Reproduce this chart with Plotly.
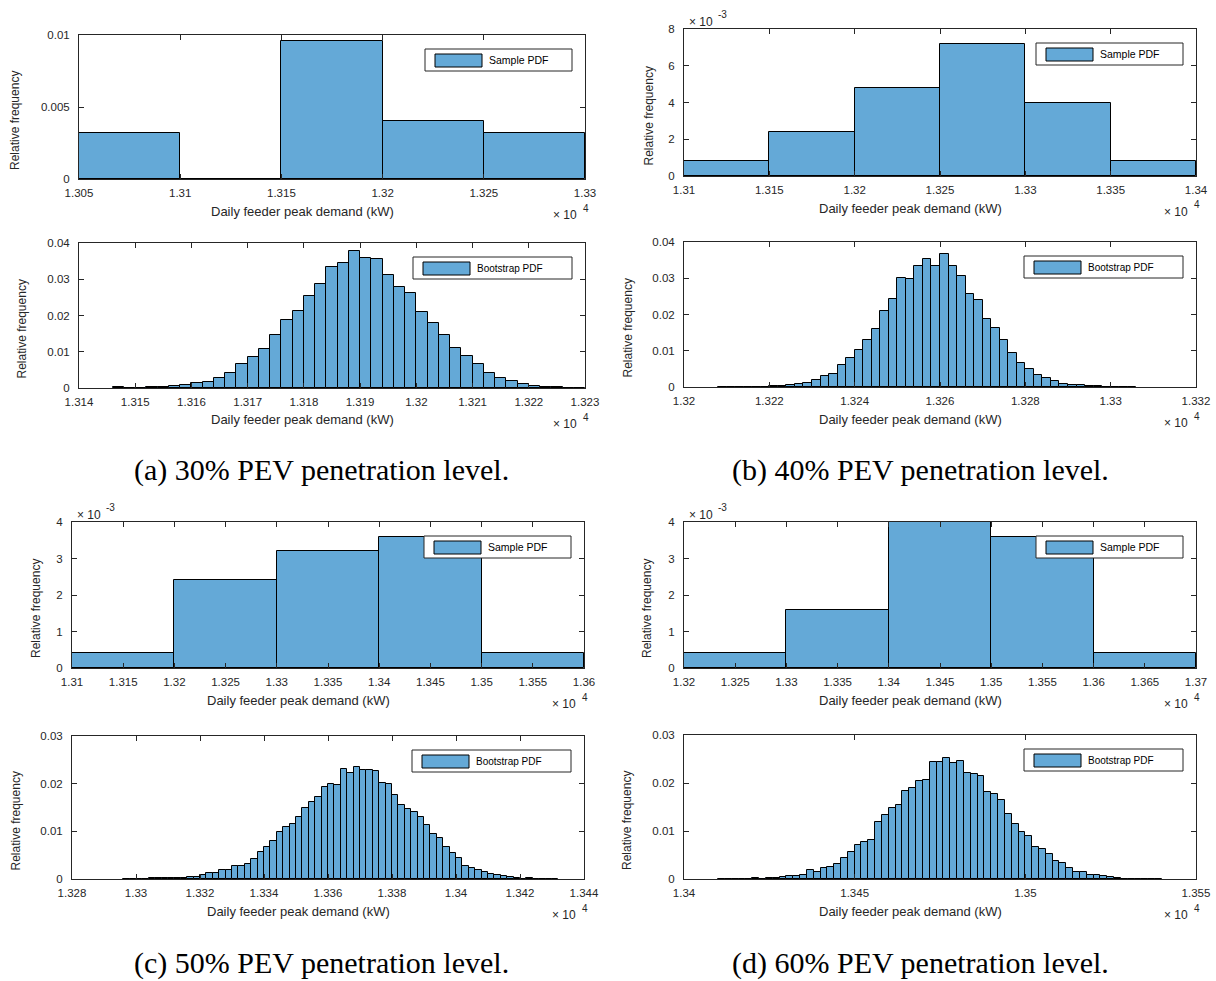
import plotly.graph_objects as go

W, H = 1216, 981

# ------------------------------------------------------------------ data
# Sample PDFs (bin edges in kW, relative frequency per bin)
a_sample_edges = [13050, 13100, 13150, 13200, 13250, 13300]
a_sample_pdf = [0.0032, 0.0, 0.0096, 0.0040, 0.0032]
b_sample_edges = [13100, 13150, 13200, 13250, 13300, 13350, 13400]
b_sample_pdf = [0.0008, 0.0024, 0.0048, 0.0072, 0.0040, 0.0008]
c_sample_edges = [13100, 13200, 13300, 13400, 13500, 13600]
c_sample_pdf = [0.0004, 0.0024, 0.0032, 0.0036, 0.0004]
d_sample_edges = [13200, 13300, 13400, 13500, 13600, 13700]
d_sample_pdf = [0.0004, 0.0016, 0.0040, 0.0036, 0.0004]

# Bootstrap PDFs (first bin edge in kW, common bin width, heights)
boot_bin_width = 2
a_boot_start = 13146
a_boot_pdf = [0.0002, 0.0000, 0.0001, 0.0002, 0.0003, 0.0005, 0.0009, 0.0014, 0.0016, 0.0028,
              0.0042, 0.0066, 0.0085, 0.0107, 0.0145, 0.0188, 0.0212, 0.0254, 0.0287, 0.0334,
              0.0344, 0.0379, 0.0360, 0.0356, 0.0312, 0.0279, 0.0263, 0.0210, 0.0180, 0.0146,
              0.0110, 0.0087, 0.0066, 0.0041, 0.0028, 0.0019, 0.0010, 0.0006, 0.0003, 0.0003,
              0.0001, 0.0001]
b_boot_start = 13208
b_boot_pdf = [0.0001, 0.0001, 0.0001, 0.0001, 0.0001, 0.0001, 0.0002, 0.0003, 0.0005, 0.0008,
              0.0010, 0.0018, 0.0029, 0.0035, 0.0061, 0.0079, 0.0102, 0.0131, 0.0160, 0.0209,
              0.0242, 0.0300, 0.0297, 0.0334, 0.0352, 0.0335, 0.0367, 0.0333, 0.0306, 0.0257,
              0.0240, 0.0188, 0.0163, 0.0130, 0.0093, 0.0066, 0.0051, 0.0034, 0.0025, 0.0017,
              0.0008, 0.0006, 0.0005, 0.0003, 0.0002, 0.0001, 0.0001, 0.0001, 0.0001]
c_boot_start = 13296
c_boot_pdf = [0.0001, 0.0001, 0.0001, 0.0001, 0.0002, 0.0002, 0.0002, 0.0003, 0.0003, 0.0003,
              0.0005, 0.0004, 0.0008, 0.0012, 0.0012, 0.0018, 0.0018, 0.0027, 0.0027, 0.0031,
              0.0041, 0.0056, 0.0068, 0.0079, 0.0098, 0.0110, 0.0115, 0.0130, 0.0150, 0.0161,
              0.0172, 0.0192, 0.0200, 0.0197, 0.0231, 0.0222, 0.0234, 0.0228, 0.0229, 0.0226,
              0.0201, 0.0199, 0.0177, 0.0155, 0.0147, 0.0140, 0.0130, 0.0113, 0.0094, 0.0085,
              0.0068, 0.0055, 0.0045, 0.0028, 0.0023, 0.0019, 0.0014, 0.0011, 0.0009, 0.0006,
              0.0004, 0.0002, 0.0001, 0.0002, 0.0001, 0.0001, 0.0001, 0.0001]
d_boot_start = 13410
d_boot_pdf = [0.0001, 0.0001, 0.0001, 0.0001, 0.0001, 0.0002, 0.0001, 0.0003, 0.0002, 0.0004,
              0.0006, 0.0006, 0.0009, 0.0018, 0.0014, 0.0023, 0.0025, 0.0032, 0.0044, 0.0057,
              0.0071, 0.0077, 0.0082, 0.0118, 0.0133, 0.0147, 0.0154, 0.0184, 0.0189, 0.0205,
              0.0206, 0.0244, 0.0244, 0.0253, 0.0241, 0.0246, 0.0221, 0.0219, 0.0215, 0.0181,
              0.0177, 0.0164, 0.0136, 0.0114, 0.0098, 0.0090, 0.0067, 0.0063, 0.0053, 0.0038,
              0.0034, 0.0022, 0.0014, 0.0014, 0.0009, 0.0008, 0.0006, 0.0005, 0.0002, 0.0001,
              0.0001, 0.0001, 0.0001, 0.0001, 0.0001]

# Tick values
a_sample_xticks = [13050, 13100, 13150, 13200, 13250, 13300]
a_boot_xticks = [13140, 13150, 13160, 13170, 13180, 13190, 13200, 13210, 13220, 13230]
b_sample_xticks = [13100, 13150, 13200, 13250, 13300, 13350, 13400]
b_boot_xticks = [13200, 13220, 13240, 13260, 13280, 13300, 13320]
c_sample_xticks = [13100, 13150, 13200, 13250, 13300, 13350, 13400, 13450, 13500, 13550, 13600]
c_boot_xticks = [13280, 13300, 13320, 13340, 13360, 13380, 13400, 13420, 13440]
d_sample_xticks = [13200, 13250, 13300, 13350, 13400, 13450, 13500, 13550, 13600, 13650, 13700]
d_boot_xticks = [13400, 13450, 13500, 13550]
a_sample_yticks = [0, 0.005, 0.01]
b_sample_yticks = [0, 0.002, 0.004, 0.006, 0.008]
cd_sample_yticks = [0, 0.001, 0.002, 0.003, 0.004]
ab_boot_yticks = [0, 0.01, 0.02, 0.03, 0.04]
cd_boot_yticks = [0, 0.01, 0.02, 0.03]

x_label = "Daily feeder peak demand (kW)"
y_label = "Relative frequency"
captions = ["(a) 30% PEV penetration level.", "(b) 40% PEV penetration level.",
            "(c) 50% PEV penetration level.", "(d) 60% PEV penetration level."]


def sample_bins(edges, pdf):
    centers = [(edges[i] + edges[i + 1]) / 2 for i in range(len(pdf))]
    widths = [edges[i + 1] - edges[i] for i in range(len(pdf))]
    return centers, widths, pdf


def boot_bins(start, width, pdf):
    centers = [start + width * (i + 0.5) for i in range(len(pdf))]
    return centers, [width] * len(pdf), pdf


# ------------------------------------------------------------------ style / layout
FILL = "#64A9D7"
AXC = "#262626"
SANS = "Liberation Sans, Arial, Helvetica, sans-serif"

panels = [
    dict(bins=sample_bins(a_sample_edges, a_sample_pdf), box=(79, 585, 35, 179),
         xr=(13050, 13300), xt=a_sample_xticks, yr=(0, 0.01), yt=a_sample_yticks, exp=False,
         leg="Sample PDF", ylx=15),
    dict(bins=boot_bins(a_boot_start, boot_bin_width, a_boot_pdf), box=(79, 585, 243, 388),
         xr=(13140, 13230), xt=a_boot_xticks, yr=(0, 0.04), yt=ab_boot_yticks, exp=False,
         leg="Bootstrap PDF", ylx=22),
    dict(bins=sample_bins(b_sample_edges, b_sample_pdf), box=(684, 1196, 29, 176),
         xr=(13100, 13400), xt=b_sample_xticks, yr=(0, 0.008), yt=b_sample_yticks, exp=True,
         leg="Sample PDF", ylx=648),
    dict(bins=boot_bins(b_boot_start, boot_bin_width, b_boot_pdf), box=(684, 1196, 242, 387),
         xr=(13200, 13320), xt=b_boot_xticks, yr=(0, 0.04), yt=ab_boot_yticks, exp=False,
         leg="Bootstrap PDF", ylx=627),
    dict(bins=sample_bins(c_sample_edges, c_sample_pdf), box=(72, 584, 522, 668),
         xr=(13100, 13600), xt=c_sample_xticks, yr=(0, 0.004), yt=cd_sample_yticks, exp=True,
         leg="Sample PDF", ylx=36),
    dict(bins=boot_bins(c_boot_start, boot_bin_width, c_boot_pdf), box=(72, 584, 736, 879),
         xr=(13280, 13440), xt=c_boot_xticks, yr=(0, 0.03), yt=cd_boot_yticks, exp=False,
         leg="Bootstrap PDF", ylx=15),
    dict(bins=sample_bins(d_sample_edges, d_sample_pdf), box=(684, 1196, 522, 668),
         xr=(13200, 13700), xt=d_sample_xticks, yr=(0, 0.004), yt=cd_sample_yticks, exp=True,
         leg="Sample PDF", ylx=647),
    dict(bins=boot_bins(d_boot_start, boot_bin_width, d_boot_pdf), box=(684, 1196, 735, 879),
         xr=(13400, 13550), xt=d_boot_xticks, yr=(0, 0.03), yt=cd_boot_yticks, exp=False,
         leg="Bootstrap PDF", ylx=627),
]


def px(x):
    return x / W


def py(y):
    return 1 - y / H


def note(text, x, y, size, xanchor="left", color=AXC, **kw):
    return dict(text=text, x=px(x), y=py(y), xref="paper", yref="paper", showarrow=False,
                xanchor=xanchor, yanchor="middle",
                font=dict(family=SANS, size=size, color=color), **kw)


fig = go.Figure()
annotations = []
shapes = []
layout_axes = {}

for k, p in enumerate(panels, start=1):
    l, r, t, b = p["box"]
    sfx = "" if k == 1 else str(k)
    centers, widths, heights = p["bins"]
    fig.add_trace(go.Bar(
        x=centers, y=heights, width=widths,
        xaxis="x" + sfx, yaxis="y" + sfx,
        marker=dict(color=FILL, line=dict(color="black", width=1)),
        showlegend=False, name=p["leg"],
    ))
    common = dict(
        ticks="inside", ticklen=5, tickwidth=1, tickcolor=AXC,
        showline=True, linecolor=AXC, linewidth=1, mirror="ticks",
        showgrid=False, zeroline=False, automargin=False,
        tickfont=dict(family=SANS, size=11.5, color=AXC),
    )
    layout_axes["xaxis" + sfx] = dict(
        common, domain=[px(l), px(r)], range=list(p["xr"]), anchor="y" + sfx,
        tickmode="array", tickvals=p["xt"], ticktext=[f"{v / 1e4:g}" for v in p["xt"]],
        ticklabelstandoff=3,
    )
    if p["exp"]:
        ytext = [f"{v * 1e3:g}" for v in p["yt"]]
    else:
        ytext = [f"{v:g}" for v in p["yt"]]
    layout_axes["yaxis" + sfx] = dict(
        common, domain=[py(b), py(t)], range=list(p["yr"]), anchor="x" + sfx,
        tickmode="array", tickvals=p["yt"], ticktext=ytext, ticklabelstandoff=6,
    )

    # axis labels
    annotations.append(note(x_label, (l + r) / 2 - 30, b + 32, 13, xanchor="center"))
    annotations.append(note(y_label, p["ylx"], (t + b) / 2 + 14, 12, xanchor="center",
                            textangle=-90))
    # x exponent: "× 10" with a raised "4"
    annotations.append(note("× 10", r - 34, b + 36, 12))
    annotations.append(note("4", r - 4, b + 29, 10))
    if p["exp"]:
        annotations.append(note("× 10", l + 3, t - 7, 12))
        annotations.append(note("-3", l + 32, t - 15, 10))

    # legend box (drawn like the MATLAB legend)
    boxw = 147 if p["leg"] == "Sample PDF" else 159
    bx1 = r - 13
    bx0 = bx1 - boxw
    by0 = t + 14
    by1 = by0 + 22
    shapes.append(dict(type="rect", xref="paper", yref="paper", layer="above",
                       x0=px(bx0), x1=px(bx1), y0=py(by1), y1=py(by0),
                       line=dict(color=AXC, width=1), fillcolor="white"))
    shapes.append(dict(type="rect", xref="paper", yref="paper", layer="above",
                       x0=px(bx0 + 10), x1=px(bx0 + 57), y0=py(by0 + 18), y1=py(by0 + 5),
                       line=dict(color="black", width=1), fillcolor=FILL))
    annotations.append(note(p["leg"], bx0 + 62, by0 + 11,
                            10.5 if p["leg"] == "Sample PDF" else 10, color="black"))

cap_pos = [(321, 470), (920, 470), (321, 963), (920, 963)]
for txt, (cx, cy) in zip(captions, cap_pos):
    annotations.append(dict(text=txt, x=px(cx), y=py(cy), xref="paper", yref="paper",
                            showarrow=False, xanchor="center", yanchor="middle",
                            font=dict(family="Liberation Serif, Times New Roman, serif",
                                      size=30, color="black")))

fig.update_layout(
    width=W, height=H, margin=dict(l=0, r=0, t=0, b=0, pad=0, autoexpand=False),
    paper_bgcolor="white", plot_bgcolor="white",
    barmode="overlay", bargap=0, showlegend=False,
    annotations=annotations, shapes=shapes,
    **layout_axes,
)

fig.write_html("out.html")
